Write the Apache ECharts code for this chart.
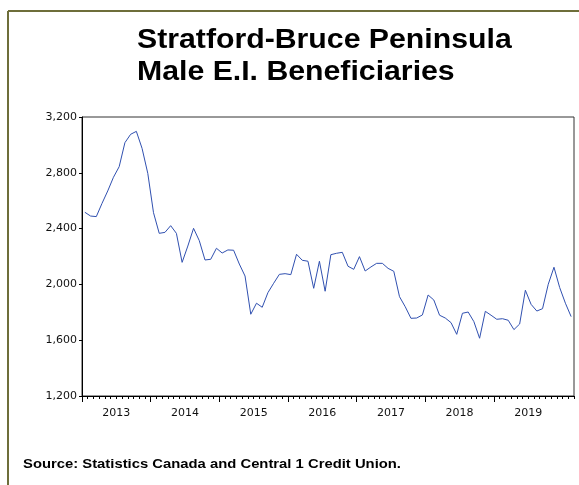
<!DOCTYPE html>
<html>
<head>
<meta charset="utf-8">
<title>Stratford-Bruce Peninsula Male E.I. Beneficiaries</title>
<script src="https://cdn.jsdelivr.net/npm/echarts@6/dist/echarts.min.js"></script>
<style>
  html, body { margin: 0; padding: 0; background: #ffffff; }
  #chart { width: 579px; height: 485px; }
</style>
</head>
<body>
<div id="chart"></div>
<script>
// Monthly male E.I. beneficiaries, January 2013 to February 2020
const startYear = 2013;
const years = ['2013', '2014', '2015', '2016', '2017', '2018', '2019'];
const beneficiaries = [
  2517, 2490, 2486, 2581, 2670, 2768, 2844, 3016, 3076, 3097, 2975, 2796,   // 2013
  2514, 2366, 2373, 2421, 2366, 2158, 2275, 2402, 2314, 2175, 2180, 2259,   // 2014
  2225, 2247, 2245, 2146, 2060, 1786, 1865, 1836, 1941, 2008, 2072, 2077,   // 2015
  2070, 2216, 2173, 2166, 1972, 2166, 1951, 2213, 2223, 2230, 2130, 2108,   // 2016
  2199, 2096, 2125, 2151, 2151, 2115, 2094, 1912, 1840, 1757, 1759, 1781,   // 2017
  1924, 1888, 1779, 1759, 1726, 1642, 1793, 1802, 1733, 1614, 1807, 1779,   // 2018
  1750, 1754, 1743, 1676, 1716, 1958, 1857, 1809, 1826, 2001, 2123, 1977,   // 2019
  1865, 1769                                                                // 2020
];
const yMin = 1200;
const yMax = 3200;
const yStep = 400;

// Category labels, one per month
const months = beneficiaries.map(function (_, i) {
  const y = startYear + Math.floor(i / 12);
  const m = (i % 12) + 1;
  return y + '-' + (m < 10 ? '0' + m : m);
});

// Year boundaries (in months from the start) and mid-year label positions
const yearStarts = years.map(function (_, i) { return i * 12; });
const yearMids = years.map(function (_, i) { return i * 12 + 6; });

const chart = echarts.init(document.getElementById('chart'), null, { renderer: 'canvas' });

const axisFont = { fontFamily: 'DejaVu Sans', fontSize: 11, color: '#111111' };

chart.setOption({
  animation: false,
  backgroundColor: '#ffffff',
  grid: {
    left: 82, top: 117, right: 5, bottom: 89,
    show: true, borderColor: '#333333', borderWidth: 1, backgroundColor: 'transparent'
  },
  graphic: [
    { type: 'line', shape: { x1: 8, y1: 11, x2: 579, y2: 11 }, style: { stroke: '#6e6e3a', lineWidth: 2 } },
    { type: 'line', shape: { x1: 8, y1: 11, x2: 8, y2: 485 }, style: { stroke: '#6e6e3a', lineWidth: 2 } },
    {
      type: 'text', x: 137, y: 41, scaleX: 1.12,
      style: { text: 'Stratford-Bruce Peninsula', fontFamily: 'Liberation Sans', fontWeight: 'bold',
               fontSize: 27, fill: '#000000', verticalAlign: 'middle', align: 'left' }
    },
    {
      type: 'text', x: 137, y: 73, scaleX: 1.12,
      style: { text: 'Male E.I. Beneficiaries', fontFamily: 'Liberation Sans', fontWeight: 'bold',
               fontSize: 27, fill: '#000000', verticalAlign: 'middle', align: 'left' }
    },
    {
      type: 'text', x: 23, y: 464, scaleX: 1.14,
      style: { text: 'Source: Statistics Canada and Central 1 Credit Union.', fontFamily: 'Liberation Sans',
               fontWeight: 'bold', fontSize: 13, fill: '#000000', verticalAlign: 'middle', align: 'left' }
    }
  ],
  xAxis: [
    {
      // monthly axis carrying the data, with a short tick at every month
      type: 'category',
      data: months,
      boundaryGap: true,
      axisLine: { show: true, lineStyle: { color: '#000000', width: 1 } },
      axisTick: { show: true, interval: 0, length: 3, lineStyle: { color: '#000000', width: 1 } },
      axisLabel: { show: false },
      splitLine: { show: false }
    },
    {
      // year ticks and mid-year labels
      type: 'value',
      min: 0,
      max: months.length,
      position: 'bottom',
      axisLine: { show: false },
      axisTick: { show: true, length: 6, customValues: yearStarts, lineStyle: { color: '#000000', width: 1 } },
      axisLabel: Object.assign({
        show: true, margin: 12, customValues: yearMids,
        formatter: function (v) { return years[Math.floor(v / 12)] || ''; }
      }, axisFont),
      splitLine: { show: false }
    }
  ],
  yAxis: {
    type: 'value',
    min: yMin,
    max: yMax,
    interval: yStep,
    axisLine: { show: true, lineStyle: { color: '#000000', width: 1 } },
    axisTick: { show: true, length: 3, lineStyle: { color: '#000000', width: 1 } },
    axisLabel: Object.assign({
      margin: 5,
      formatter: function (v) { return v.toLocaleString('en-US'); }
    }, axisFont),
    splitLine: { show: false }
  },
  series: [
    {
      name: 'Male E.I. Beneficiaries',
      type: 'line',
      xAxisIndex: 0,
      data: beneficiaries,
      showSymbol: false,
      symbol: 'none',
      lineStyle: { color: '#3050b0', width: 1 },
      emphasis: { disabled: true }
    }
  ]
});
</script>
</body>
</html>
